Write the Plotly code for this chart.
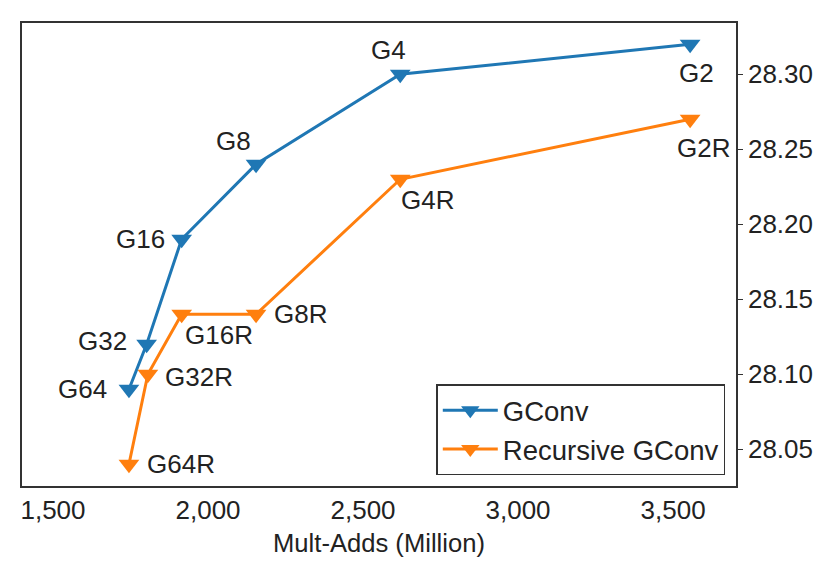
import plotly.graph_objects as go

# ── Data ──────────────────────────────────────────────────────────────────────
gconv_madds  = [1745, 1802, 1915, 2155, 2620, 3555]
gconv_psnr   = [28.09, 28.12, 28.19, 28.24, 28.30, 28.32]
gconv_labels = ['G64', 'G32', 'G16', 'G8', 'G4', 'G2']

rec_madds  = [1745, 1806, 1915, 2155, 2620, 3555]
rec_psnr   = [28.04, 28.10, 28.14, 28.14, 28.23, 28.27]
rec_labels = ['G64R', 'G32R', 'G16R', 'G8R', 'G4R', 'G2R']

# label offsets in px (dx right, dy up) – styling only
gconv_shift = [(-46, 0), (-44, 3), (-41, 0), (-23, 23), (-12, 24), (6, -29)]
rec_shift   = [(52, 0), (51, -3), (37, -21), (44, 0), (27, -21), (13, -29)]

BLUE   = '#1f77b4'
ORANGE = '#ff7f0e'
TXT    = '#222222'
FONT   = 'Liberation Sans, Arial, sans-serif'
FS     = 26

fig = go.Figure()
fig.add_trace(go.Scatter(
    x=gconv_madds, y=gconv_psnr, mode='lines+markers', name='GConv',
    line=dict(color=BLUE, width=3),
    marker=dict(symbol='triangle-down', size=18, color=BLUE)))
fig.add_trace(go.Scatter(
    x=rec_madds, y=rec_psnr, mode='lines+markers', name='Recursive GConv',
    line=dict(color=ORANGE, width=3),
    marker=dict(symbol='triangle-down', size=18, color=ORANGE)))

for xs, ys, labs, shifts in [(gconv_madds, gconv_psnr, gconv_labels, gconv_shift),
                             (rec_madds, rec_psnr, rec_labels, rec_shift)]:
    for xv, yv, lab, (dx, dy) in zip(xs, ys, labs, shifts):
        fig.add_annotation(x=xv, y=yv, text=lab, showarrow=False,
                           xanchor='center', yanchor='middle',
                           xshift=dx, yshift=dy,
                           font=dict(family=FONT, size=FS, color=TXT))

fig.update_layout(
    width=830, height=572,
    margin=dict(l=22, r=94, t=23, b=86),
    paper_bgcolor='white', plot_bgcolor='white',
    font=dict(family=FONT, size=FS, color=TXT),
    showlegend=True,
    legend=dict(x=0.985, y=0.023, xanchor='right', yanchor='bottom',
                bordercolor='#333333', borderwidth=1.5, bgcolor='white',
                font=dict(size=27.5), tracegroupgap=0, itemwidth=55),
    xaxis=dict(range=[1400, 3703], tickvals=[1500, 2000, 2500, 3000, 3500],
               tickformat=',d', showgrid=False, zeroline=False,
               showline=True, linecolor='#333333', linewidth=1.5, mirror=True,
               ticks='',
               title=dict(text='Mult-Adds (Million)', standoff=10,
                          font=dict(size=25.6))),
    yaxis=dict(range=[28.0255, 28.3342], side='right',
               tickvals=[28.05, 28.10, 28.15, 28.20, 28.25, 28.30],
               tickformat='.2f', showgrid=False, zeroline=False,
               showline=True, linecolor='#333333', linewidth=1.5, mirror=True,
               ticks='outside', ticklen=5, tickwidth=1.2, tickcolor='#333333'),
)

fig.write_html('out.html', config={'displayModeBar': False},
               post_script="document.body.style.margin='0';")
